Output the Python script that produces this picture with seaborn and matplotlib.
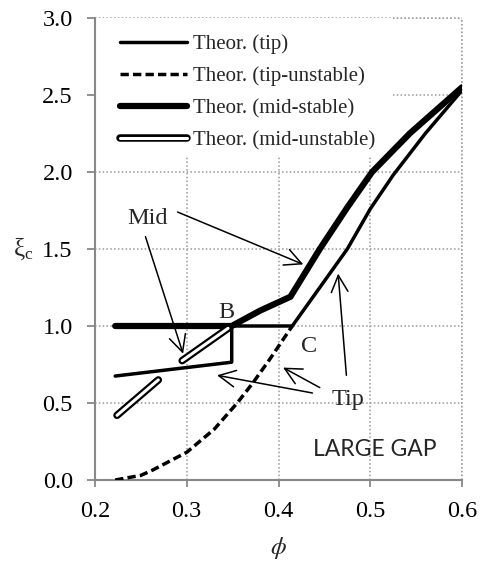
import matplotlib
matplotlib.use("Agg")
import matplotlib.pyplot as plt
import matplotlib.patheffects as pe
from matplotlib.patches import Rectangle
import seaborn as sns
import pandas as pd

# ---- data ----
tip_x = [0.222, 0.349, 0.349, 0.415, 0.475, 0.50, 0.525, 0.56, 0.6]
tip_y = [0.675, 0.765, 1.0, 1.0, 1.5, 1.76, 1.98, 2.25, 2.53]

tip_unst_x = [0.222, 0.25, 0.263, 0.30, 0.33, 0.355, 0.372, 0.39, 0.415]
tip_unst_y = [0.0, 0.03, 0.065, 0.18, 0.33, 0.50, 0.63, 0.78, 1.0]

mid_x = [0.222, 0.349, 0.38, 0.413, 0.445, 0.475, 0.502, 0.543, 0.6]
mid_y = [1.0, 1.0, 1.10, 1.19, 1.5, 1.77, 2.0, 2.25, 2.55]

mid_unst_a_x = [0.224, 0.269]
mid_unst_a_y = [0.42, 0.65]
mid_unst_b_x = [0.295, 0.345]
mid_unst_b_y = [0.775, 0.985]

labels = ["Theor. (tip)", "Theor. (tip-unstable)", "Theor. (mid-stable)", "Theor. (mid-unstable)"]
x_ticks = [0.2, 0.3, 0.4, 0.5, 0.6]
y_ticks = [0.0, 0.5, 1.0, 1.5, 2.0, 2.5, 3.0]

sns.set_style("white")
plt.rcParams["font.family"] = ["Liberation Serif", "DejaVu Serif"]
plt.rcParams["mathtext.fontset"] = "stix"

fig = plt.figure(figsize=(4.8, 5.67), dpi=100)
ax = fig.add_axes([95 / 480, 1 - 480 / 567, (462 - 95) / 480, (480 - 18) / 567])

def df(x, y):
    return pd.DataFrame({"x": x, "y": y})

sns.lineplot(data=df(tip_x, tip_y), x="x", y="y", sort=False, estimator=None,
             color="black", lw=2.5, label=labels[0], ax=ax, zorder=4)
sns.lineplot(data=df(tip_unst_x, tip_unst_y), x="x", y="y", sort=False, estimator=None,
             color="black", lw=2.5, ax=ax, label=labels[1], zorder=3)
ax.lines[-1].set_dashes((2.4, 1.2))
sns.lineplot(data=df(mid_x, mid_y), x="x", y="y", sort=False, estimator=None,
             color="black", lw=4.5, label=labels[2], ax=ax, zorder=3,
             solid_capstyle="round", solid_joinstyle="miter")
effects = [pe.Stroke(linewidth=5.4, foreground="black", capstyle="round"), pe.Normal()]
sns.lineplot(data=df(mid_unst_a_x, mid_unst_a_y), x="x", y="y", sort=False, estimator=None,
             color="white", lw=2.2, label=labels[3], ax=ax, zorder=5,
             solid_capstyle="round", path_effects=effects)
sns.lineplot(data=df(mid_unst_b_x, mid_unst_b_y), x="x", y="y", sort=False, estimator=None,
             color="white", lw=2.2, label="_nolegend_", ax=ax, zorder=5,
             solid_capstyle="round", path_effects=effects)

ax.set_xlim(0.2, 0.6)
ax.set_ylim(0.0, 3.0)
ax.set_xticks(x_ticks)
ax.set_yticks(y_ticks)
ax.set_xticklabels([f"{v:.1f}" for v in x_ticks])
ax.set_yticklabels([f"{v:.1f}" for v in y_ticks])
ax.tick_params(axis="both", labelsize=17.5, colors="#888888", labelcolor="black",
               width=1.3, direction="out")
ax.tick_params(axis="x", length=5, pad=10, bottom=True)
ax.tick_params(axis="y", length=6, pad=10, left=True)

ax.grid(True, linestyle=(0, (1, 1.5)), color="#999999", lw=1.1)
for s in ["top", "right"]:
    ax.spines[s].set_visible(False)
for s in ["left", "bottom"]:
    ax.spines[s].set_color("#888888")
    ax.spines[s].set_linewidth(1.5)
ax.axhline(3.0, linestyle=(0, (1, 1.5)), color="#999999", lw=1.1, clip_on=False, zorder=0.5)
ax.axvline(0.6, linestyle=(0, (1, 1.5)), color="#999999", lw=1.1, clip_on=False, zorder=0.5)

# white legend area covering the grid
ax.add_patch(Rectangle((0.0, 0.699), 0.812, 0.301, transform=ax.transAxes,
                       facecolor="white", edgecolor="none", zorder=1))

ax.set_xlabel(r"$\phi$", fontsize=18)
ax.xaxis.label.set_va("center")
ax.xaxis.set_label_coords(0.5, -0.148)
ax.set_ylabel(r"$\mathregular{\xi_c}$", fontsize=18, rotation=0, ha="center", va="center")
ax.yaxis.set_label_coords(-0.195, 0.50)

leg = ax.legend(loc="upper left", bbox_to_anchor=(0.068, 0.964), fontsize=15,
                frameon=False, handlelength=3.2, handletextpad=0.3,
                labelspacing=0.59, borderpad=0.0, borderaxespad=0.0)
leg.set_zorder(6)

# annotations
arrow = dict(arrowstyle="->,head_length=0.8,head_width=0.4", color="black", lw=1.1,
             shrinkA=0, shrinkB=0, mutation_scale=15)
ax.text(0.257, 1.70, "Mid", fontsize=17.5, ha="center", va="center", zorder=7)
ax.annotate("", xy=(0.427, 1.40), xytext=(0.29, 1.74), arrowprops=arrow, zorder=7)
ax.annotate("", xy=(0.296, 0.82), xytext=(0.255, 1.58), arrowprops=arrow, zorder=7)

ax.text(0.476, 0.52, "Tip", fontsize=17.5, ha="center", va="center", zorder=7)
ax.annotate("", xy=(0.333, 0.68), xytext=(0.437, 0.565), arrowprops=arrow, zorder=7)
ax.annotate("", xy=(0.405, 0.73), xytext=(0.445, 0.60), arrowprops=arrow, zorder=7)
ax.annotate("", xy=(0.465, 1.34), xytext=(0.474, 0.68), arrowprops=arrow, zorder=7)

ax.text(0.343, 1.09, "B", fontsize=17.5, ha="center", va="center", zorder=7)
ax.text(0.433, 0.87, "C", fontsize=17.5, ha="center", va="center", zorder=7)
ax.text(0.505, 0.20, "LARGE GAP", fontsize=16.5, ha="center", va="center",
        family=["Lato", "DejaVu Sans"], zorder=7)

fig.savefig("out.png", dpi=100)
